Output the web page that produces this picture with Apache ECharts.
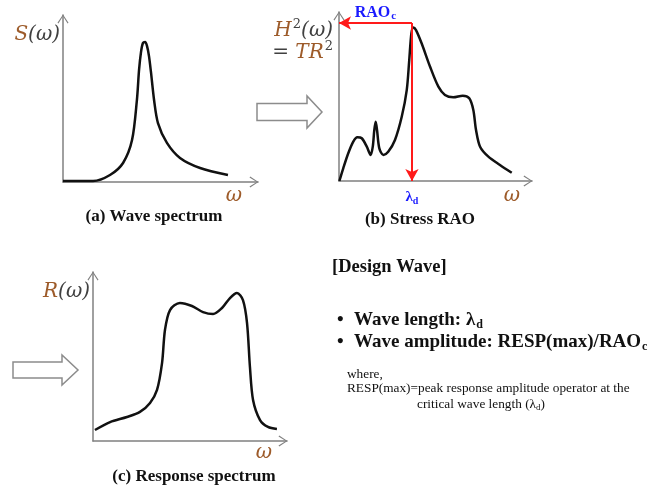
<!DOCTYPE html>
<html><head><meta charset="utf-8">
<script src="https://cdn.jsdelivr.net/npm/echarts@6/dist/echarts.min.js"></script>
<style>html,body{margin:0;padding:0;background:#fff}#c{width:666px;height:491px}</style>
</head><body><div id="c"></div>
<script>
// (a) Wave spectrum S(omega)
const waveX = [0, 15.4, 24.1, 30.8, 35.4, 37.9, 39.0, 40.0, 41.0, 42.1, 43.1, 44.1, 45.1, 46.7, 48.7, 53.3, 60.0, 70.3, 84.6];
const waveY = [0.6, 0.6, 4.2, 11.4, 25.1, 49.1, 67.1, 77.8, 83.2, 83.8, 81.4, 75.4, 65.9, 49.1, 35.3, 23.4, 14.4, 8.4, 4.2];
// (b) Stress RAO H^2(omega)
const raoX = [0.2, 2.2, 4.8, 7.4, 9.5, 11.8, 14.4, 16.4, 17.5, 18.3, 19.0, 19.7, 20.9, 23.0, 25.5, 29.0, 32.5, 35.1, 36.4, 37.5, 38.5, 39.9, 42.8, 47.2, 51.5, 54.9, 59.2, 64.1, 67.5, 69.6, 71.0, 73.1, 77.4, 83.4, 89.5];
const raoY = [0, 7.5, 16.4, 23.3, 25.9, 25.3, 20.3, 15.4, 20.3, 30.2, 35.1, 30.2, 19.3, 15.4, 17.3, 24.3, 38.0, 53.8, 71.6, 87.4, 90.9, 89.3, 81.5, 67.6, 55.8, 50.9, 49.5, 50.5, 48.9, 42.0, 30.2, 20.3, 14.4, 9.5, 4.9];
const RAO_C = 93.5;
const LAMBDA_D = 37.8;
// (c) Response spectrum R(omega)
const respX = [1.0, 8.8, 17.5, 24.2, 29.4, 33.0, 35.6, 37.1, 39.7, 44.8, 51.0, 56.7, 61.9, 66.5, 70.6, 74.2, 77.3, 79.4, 80.9, 82.5, 86.1, 90.2, 94.8];
const respY = [6.5, 11.2, 14.2, 17.2, 22.5, 30.2, 46.2, 65.7, 77.5, 81.7, 79.9, 76.3, 75.1, 78.7, 84.6, 87.6, 83.4, 69.8, 43.8, 24.3, 12.4, 8.3, 7.1];

const zip = (xs, ys) => xs.map((x, i) => [x, ys[i]]);
const CHEV = 'path://M0,9 L6,0 L12,9 L11,9.8 L6,1.9 L1,9.8 Z';
const AX = '#808080';
const BROWN = '#9d5b2a';
const DARK = '#404040';
function xa(g) {
  return {gridIndex: g, type: 'value', min: 0, max: 100,
    axisLine: {show: true, onZero: true, lineStyle: {color: AX, width: 1.5}, symbol: ['none', CHEV], symbolSize: [12, 9], symbolOffset: [0, -4]},
    axisTick: {show: false}, axisLabel: {show: false}, splitLine: {show: false}};
}
const ya = xa;
const curve = (g, d) => ({type: 'line', xAxisIndex: g, yAxisIndex: g, data: d, smooth: 0.3, showSymbol: false, silent: true,
  lineStyle: {color: '#111', width: 2.5}, z: 3});

const mathRich = {
  m: {fontFamily: 'DejaVu Serif', fontStyle: 'italic', fontSize: 20, fill: BROWN},
  p: {fontFamily: 'DejaVu Serif', fontStyle: 'italic', fontSize: 20, fill: DARK},
  s: {fontFamily: 'DejaVu Serif', fontSize: 13, fill: DARK, padding: [0, 0, 12, 1]}
};
const serifB = (size) => ({fontFamily: 'Liberation Serif', fontWeight: 'bold', fontSize: size, fill: '#111'});

const rao = curve(1, zip(raoX, raoY));
rao.markLine = {
  silent: true, animation: false,
  lineStyle: {color: '#ff1a1a', width: 2, type: 'solid'},
  data: [
    [{coord: [0, RAO_C], symbol: 'arrow', symbolSize: [10, 12],
      label: {show: true, position: 'insideMiddleTop', distance: 1,
        formatter: '{a|RAO}{b|c}',
        rich: {a: {fontFamily: 'Liberation Serif', fontWeight: 'bold', fontSize: 16, color: '#1a1aff'},
               b: {fontFamily: 'Liberation Serif', fontWeight: 'bold', fontSize: 11, color: '#1a1aff', padding: [8, 0, 0, 1]}}}},
     {coord: [LAMBDA_D, RAO_C], symbol: 'none'}],
    [{coord: [LAMBDA_D, RAO_C], symbol: 'none',
      label: {show: true, position: 'end', distance: 8,
        formatter: '{a|λ}{b|d}',
        rich: {a: {fontFamily: 'Liberation Serif', fontWeight: 'bold', fontSize: 15, color: '#1a1aff'},
               b: {fontFamily: 'Liberation Serif', fontWeight: 'bold', fontSize: 10, color: '#1a1aff', padding: [7, 0, 0, 0]}}}},
     {coord: [LAMBDA_D, 0], symbol: 'arrow', symbolSize: [10, 12]}]
  ]
};

function txt(x, y, text, rich, align) {
  return {type: 'text', x: x, y: y, silent: true, style: {text: text, rich: rich, align: align || 'left', verticalAlign: 'middle'}};
}
const omega = (x, y) => txt(x, y, '{m|ω}', mathRich, 'center');
const arrowShape = (x0, x1, xh, y, hb, hh) => ({type: 'polygon', silent: true,
  shape: {points: [[x0, y - hb], [x1, y - hb], [x1, y - hh], [xh, y], [x1, y + hh], [x1, y + hb], [x0, y + hb]]},
  style: {fill: '#fff', stroke: '#8c8c8c', lineWidth: 1.5}});

const tRich = {t: serifB(19), sub: Object.assign(serifB(12), {padding: [9, 0, 0, 1]})};
const nRich = {t: {fontFamily: 'Liberation Serif', fontSize: 13.3, fill: '#111'},
               sub: {fontFamily: 'Liberation Serif', fontSize: 9, fill: '#111', padding: [6, 0, 0, 0]}};

const chart = echarts.init(document.getElementById('c'));
chart.setOption({
  animation: false,
  backgroundColor: '#fff',
  grid: [
    {left: 63, top: 15, width: 195, height: 167},
    {left: 339, top: 12, width: 193, height: 169},
    {left: 93, top: 272, width: 194, height: 169}
  ],
  xAxis: [xa(0), xa(1), xa(2)],
  yAxis: [ya(0), ya(1), ya(2)],
  series: [curve(0, zip(waveX, waveY)), rao, curve(2, zip(respX, respY))],
  graphic: [
    txt(60, 35, '{m|S}{p|(ω)}', mathRich, 'right'),
    txt(333, 31, '{m|H}{s|2}{p|(ω)}', mathRich, 'right'),
    txt(333, 53, '{p|= }{m|TR}{s|2}', mathRich, 'right'),
    txt(90, 292, '{m|R}{p|(ω)}', mathRich, 'right'),
    omega(234, 196), omega(512, 196), omega(264, 453),
    txt(154, 217, '{t|(a) Wave spectrum}', {t: serifB(17)}, 'center'),
    txt(420, 220, '{t|(b) Stress RAO}', {t: serifB(17)}, 'center'),
    txt(194, 477, '{t|(c) Response spectrum}', {t: serifB(17)}, 'center'),
    arrowShape(257, 307, 322, 112, 8.5, 16),
    arrowShape(13, 62, 78, 370, 8, 15),
    txt(332, 267, '{t|[Design Wave]}', {t: serifB(18.5)}),
    txt(337, 320, '{t|•}', tRich),
    txt(337, 342, '{t|•}', tRich),
    txt(354, 320, '{t|Wave length: λ}{sub|d}', tRich),
    txt(354, 342, '{t|Wave amplitude: RESP(max)/RAO}{sub|c}', tRich),
    txt(347, 375, '{t|where,}', nRich),
    txt(347, 389, '{t|RESP(max)=peak response amplitude operator at the}', nRich),
    txt(417, 405, '{t|critical wave length (λ}{sub|d}{t|)}', nRich)
  ]
});
</script></body></html>
